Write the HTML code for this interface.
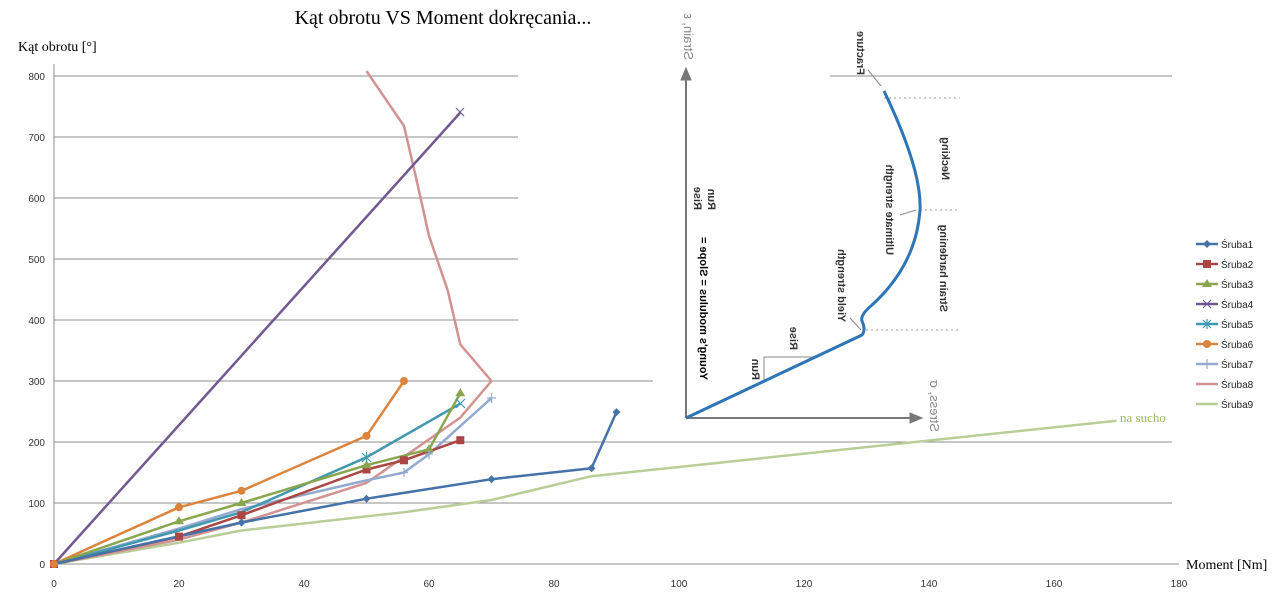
<!DOCTYPE html>
<html><head><meta charset="utf-8"><style>html,body{margin:0;padding:0;background:#fff}svg{display:block}</style></head>
<body>
<svg width="1280" height="600" viewBox="0 0 1280 600" xmlns="http://www.w3.org/2000/svg" font-family="Liberation Sans, sans-serif">
<rect width="1280" height="600" fill="#fff"/>
<g stroke="#8c8c8c" stroke-width="1">
<line x1="54" y1="503" x2="1172" y2="503"/>
<line x1="54" y1="442" x2="1172" y2="442"/>
<line x1="54" y1="381" x2="653" y2="381"/>
<line x1="54" y1="320" x2="518" y2="320"/>
<line x1="54" y1="259" x2="518" y2="259"/>
<line x1="54" y1="198" x2="518" y2="198"/>
<line x1="54" y1="137" x2="518" y2="137"/>
<line x1="54" y1="76" x2="518" y2="76"/>
<line x1="830" y1="76" x2="1172" y2="76"/>
<line x1="54" y1="64" x2="54" y2="564"/>
<line x1="54" y1="564" x2="1179" y2="564"/>
</g>
<g font-size="10" fill="#333" text-anchor="end">
<text x="45" y="568">0</text><text x="45" y="507">100</text><text x="45" y="446">200</text><text x="45" y="385">300</text><text x="45" y="324">400</text><text x="45" y="263">500</text><text x="45" y="202">600</text><text x="45" y="141">700</text><text x="45" y="80">800</text>
</g>
<g font-size="10" fill="#333" text-anchor="middle">
<text x="54" y="587">0</text><text x="179" y="587">20</text><text x="304" y="587">40</text><text x="429" y="587">60</text><text x="554" y="587">80</text><text x="679" y="587">100</text><text x="804" y="587">120</text><text x="929" y="587">140</text><text x="1054" y="587">160</text><text x="1179" y="587">180</text>
</g>
<text x="443" y="24" font-family="Liberation Serif, serif" font-size="20" text-anchor="middle" fill="#000">Kąt obrotu VS Moment dokręcania...</text>
<text x="18" y="51" font-family="Liberation Serif, serif" font-size="14" fill="#000">Kąt obrotu [°]</text>
<text x="1186" y="569" font-family="Liberation Serif, serif" font-size="14" fill="#000">Moment [Nm]</text>
<text x="1120" y="422" font-family="Liberation Serif, serif" font-size="13" fill="#9bbb59">na sucho</text>

<!-- inset -->
<g stroke="#777" fill="#777">
<line x1="686" y1="418" x2="686" y2="78" stroke-width="2"/>
<polygon points="686,68 681,80 691,80"/>
<line x1="686" y1="418" x2="912" y2="418" stroke-width="2"/>
<polygon points="922,418 910,413 910,423"/>
</g>
<g stroke="#999" stroke-dasharray="2,3">
<line x1="866" y1="330" x2="960" y2="330"/>
<line x1="920" y1="210" x2="960" y2="210"/>
<line x1="884" y1="98" x2="960" y2="98"/>
</g>
<polyline points="764,382 764,357 818,357" fill="none" stroke="#888"/>
<g stroke="#888"><line x1="868" y1="70" x2="881" y2="86"/><line x1="900" y1="215" x2="916" y2="210"/><line x1="850" y1="318" x2="861" y2="330"/></g>
<path d="M686,418 L862,335 Q866,330 862,321 Q860,315 872,305 Q916,265 920,210 Q922,170 884,91" fill="none" stroke="#2e75b6" stroke-width="3"/>
<g font-size="11" fill="#333" font-weight="bold">
<text transform="translate(700,380) rotate(-90) scale(1,-1)" fill="#000">Young's modulus = Slope = </text>
<text transform="translate(694,210) rotate(-90) scale(1,-1)">Rise</text>
<text transform="translate(708,210) rotate(-90) scale(1,-1)">Run</text>
<text transform="translate(752,380) rotate(-90) scale(1,-1)">Run</text>
<text transform="translate(790,350) rotate(-90) scale(1,-1)">Rise</text>
<text transform="translate(838,322) rotate(-90) scale(1,-1)">Yield strength</text>
<text transform="translate(886,255) rotate(-90) scale(1,-1)">Ultimate strength</text>
<text transform="translate(940,312) rotate(-90) scale(1,-1)">Strain hardening</text>
<text transform="translate(942,180) rotate(-90) scale(1,-1)">Necking</text>
<text transform="translate(857,75) rotate(-90) scale(1,-1)">Fracture</text>
</g>
<g font-size="13" fill="#888">
<text transform="translate(684,60) rotate(-90) scale(1,-1)">Strain, ε</text>
<text transform="translate(930,432) rotate(-90) scale(1,-1)">Stress, σ</text>
</g>

<!-- series -->
<g fill="none" stroke-width="2.5" stroke-linejoin="round">
<polyline stroke="#b9cd96" points="54,564 179,542.7 241.5,530.5 404,512.2 491.5,500 591.5,476.2 1116.5,420.7"/>
<polyline stroke="#d19392" points="366.5,71.1 404,126 416.5,179.7 429,235.8 447.8,290.7 460.3,344.4 491.5,381 460.3,417.6 366.5,482.9 241.5,522.5 179,539.6 54,564"/>
<polyline stroke="#93a9cf" points="54,564 179,528.6 241.5,509.1 366.5,480.4 404,472.5 429,454.2 491.5,398.1"/>
<polyline stroke="#db843d" points="54,564 179,507.3 241.5,490.8 366.5,435.9 404,381"/>
<polyline stroke="#4198af" points="54,564 179,530.5 241.5,512.2 366.5,457.3 460.3,403.6"/>
<polyline stroke="#71588f" points="54,564 460.3,112.6"/>
<polyline stroke="#89a54e" points="54,564 179,521.3 241.5,503 366.5,465.2 429,449.3 460.3,393.2"/>
<polyline stroke="#aa4643" points="54,564 179,536.6 241.5,515.2 366.5,469.5 404,460.3 460.3,440.2"/>
<polyline stroke="#4572a7" points="54,564 241.5,522.5 366.5,498.7 491.5,479.2 591.5,468.2 616.5,412.1"/>
</g>
<!-- markers -->
<g fill="#4572a7"><path d="M241.5,518.5l4,4-4,4-4-4z M366.5,494.7l4,4-4,4-4-4z M491.5,475.2l4,4-4,4-4-4z M591.5,464.2l4,4-4,4-4-4z M616.5,408.1l4,4-4,4-4-4z"/></g>
<g fill="#aa4643"><rect x="50" y="560" width="8" height="8"/><rect x="175" y="532.6" width="8" height="8"/><rect x="237.5" y="511.2" width="8" height="8"/><rect x="362.5" y="465.5" width="8" height="8"/><rect x="400" y="456.3" width="8" height="8"/><rect x="456.3" y="436.2" width="8" height="8"/></g>
<g fill="#89a54e"><path d="M179,516.3l5,8h-10z M241.5,498l5,8h-10z M366.5,460.2l5,8h-10z M429,444.3l5,8h-10z M460.3,388.2l5,8h-10z"/></g>
<g fill="#db843d"><circle cx="54" cy="564" r="4"/><circle cx="179" cy="507.3" r="4"/><circle cx="241.5" cy="490.8" r="4"/><circle cx="366.5" cy="435.9" r="4"/><circle cx="404" cy="381" r="4"/></g>
<g stroke="#71588f" stroke-width="1.2"><path d="M456,108l8,8M464,108l-8,8"/></g>
<g stroke="#4198af" stroke-width="1.2"><path d="M362,453l9,9M371,453l-9,9M366.5,452v10 M456,399l9,9M465,399l-9,9"/></g>
<g stroke="#93a9cf" stroke-width="1.2"><path d="M487,398h9M491.5,393v10 M400,472.5h8M404,468v9 M425,454h8M429,450v9"/></g>
<!-- legend -->
<g stroke-width="2.5">
<line x1="1196" y1="244" x2="1218" y2="244" stroke="#4572a7"/>
<line x1="1196" y1="264" x2="1218" y2="264" stroke="#aa4643"/>
<line x1="1196" y1="284" x2="1218" y2="284" stroke="#89a54e"/>
<line x1="1196" y1="304" x2="1218" y2="304" stroke="#71588f"/>
<line x1="1196" y1="324" x2="1218" y2="324" stroke="#4198af"/>
<line x1="1196" y1="344" x2="1218" y2="344" stroke="#db843d"/>
<line x1="1196" y1="364" x2="1218" y2="364" stroke="#93a9cf"/>
<line x1="1196" y1="384" x2="1218" y2="384" stroke="#d19392"/>
<line x1="1196" y1="404" x2="1218" y2="404" stroke="#b9cd96"/>
</g>
<path d="M1207,240l4,4-4,4-4-4z" fill="#4572a7"/>
<rect x="1203" y="260" width="8" height="8" fill="#aa4643"/>
<path d="M1207,279l5,8h-10z" fill="#89a54e"/>
<path d="M1203,300l8,8M1211,300l-8,8" stroke="#71588f" stroke-width="1.2"/>
<path d="M1203,320l8,8M1211,320l-8,8M1207,319v10" stroke="#4198af" stroke-width="1.2"/>
<circle cx="1207" cy="344" r="4" fill="#db843d"/>
<path d="M1207,359v10" stroke="#93a9cf" stroke-width="1.2"/>
<g font-size="10" fill="#222">
<text x="1221" y="248">Śruba1</text><text x="1221" y="268">Śruba2</text><text x="1221" y="288">Śruba3</text><text x="1221" y="308">Śruba4</text><text x="1221" y="328">Śruba5</text><text x="1221" y="348">Śruba6</text><text x="1221" y="368">Śruba7</text><text x="1221" y="388">Śruba8</text><text x="1221" y="408">Śruba9</text>
</g>
</svg>
</body></html>
